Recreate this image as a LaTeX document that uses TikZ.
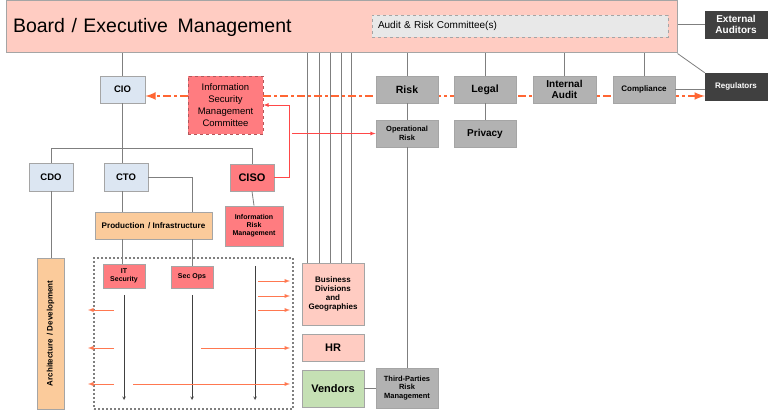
\documentclass[tikz,border=0pt]{standalone}
\usepackage{fontspec}
\setmainfont{Liberation Sans}
\usepackage{xcolor}
\usetikzlibrary{arrows,backgrounds,calc,positioning}
\definecolor{boardpink}{RGB}{255,204,194}
\definecolor{boardline}{RGB}{165,165,165}
\definecolor{auditgray}{RGB}{232,232,232}
\definecolor{darkbox}{RGB}{64,64,64}
\definecolor{riskgray}{RGB}{178,178,178}
\definecolor{itblue}{RGB}{220,230,242}
\definecolor{secred}{RGB}{255,124,128}
\definecolor{prodorange}{RGB}{251,203,155}
\definecolor{vendgreen}{RGB}{197,224,180}
\definecolor{linegray}{RGB}{127,127,127}
\definecolor{policyorange}{RGB}{255,102,51}
\definecolor{feedcoral}{RGB}{255,120,80}
\definecolor{alertred}{RGB}{255,72,72}
\tikzset{%
	tx/.style        = {font=\bfseries\fontsize{#1}{\the\dimexpr #1pt*23/20\relax}\selectfont},
	board/.style     = {draw=boardline, fill=boardpink, line width=1pt, minimum height=52, text width=657, inner xsep=7, align=left, font=\fontsize{19.5}{23}\selectfont},
	committee/.style = {draw=boardline, dashed, fill=auditgray, minimum height=22, text width=284, inner xsep=6, align=left, font=\fontsize{10}{12}\selectfont},
	outside/.style   = {draw=darkbox, fill=darkbox, inner sep=1pt, align=center, text=white},
	func/.style      = {draw=boardline, fill=riskgray, line width=0.8pt, inner sep=1pt, align=center},
	itbox/.style     = {draw=boardline, fill=itblue, line width=0.8pt, inner sep=1pt, align=center},
	secbox/.style    = {draw=boardline, fill=secred, line width=0.8pt, inner sep=1pt, align=center},
	prodbox/.style   = {draw=boardline, fill=prodorange, line width=0.8pt, inner sep=1pt, align=center},
	bizbox/.style    = {draw=boardline, fill=boardpink, line width=0.8pt, inner sep=1pt, align=center},
	vendbox/.style   = {draw=boardline, fill=vendgreen, line width=0.8pt, inner sep=1pt, align=center},
	opsframe/.style  = {draw=linegray, line width=2pt, dash pattern=on 2pt off 2pt},
	link/.style      = {draw=linegray, line width=0.8pt},
	policy/.style    = {draw=policyorange, line width=2.5pt, dash pattern=on 8pt off 3pt on 3pt off 3pt, -latex},
	alert/.style     = {draw=alertred, line width=0.8pt, -latex},
	feed/.style      = {draw=feedcoral, line width=0.9pt, -latex},
	flow/.style      = {draw=black!75, line width=0.6pt, -stealth},
}
\begin{document}
\begin{tikzpicture}[x=1pt, y=-1pt]
	\useasboundingbox (0,0) rectangle (768,411);
	% board level
	\node[board] (board) at (341.5,27) {Board / Executive\, Management};
	\node[committee] (audit) at (520,26) {Audit \& Risk Committee(s)};
	\node[outside, tx=10, minimum width=62, minimum height=27] (extaud) at (736,24.5) {External\\Auditors};
	\node[outside, tx=8, minimum width=62, minimum height=27] (reg) at (736,86.5) {Regulators};
	% second line functions
	\node[func, tx=10.5, minimum width=62, minimum height=27] (risk) at (407,89.5) {Risk};
	\node[func, tx=10.5, minimum width=62, minimum height=27] (legal) at (485,89.5) {Legal};
	\node[func, tx=10, minimum width=63, minimum height=27] (iaudit) at (564.5,89.5) {Internal\\Audit};
	\node[func, tx=8, minimum width=62, minimum height=27] (compl) at (644,89.5) {Compliance};
	\node[func, tx=7.5, minimum width=62, minimum height=27] (oprisk) at (407,133.5) {Operational\\Risk};
	\node[func, tx=10, minimum width=62, minimum height=27] (privacy) at (485,133.5) {Privacy};
	\node[func, tx=7.5, minimum width=62, minimum height=40] (tprm) at (407,388) {Third-Parties\\Risk\\Management};
	% IT side
	\node[itbox, tx=9.5, minimum width=45, minimum height=27] (cio) at (122.5,89.5) {CIO};
	\node[secbox, dashed, draw=secred!70!black, minimum width=75, minimum height=58, font=\fontsize{9.5}{11.8}\selectfont] (ismc) at (225.5,105) {Information\\Security\\Management\\Committee};
	\node[itbox, tx=9.5, minimum width=44, minimum height=28] (cdo) at (51,177) {CDO};
	\node[itbox, tx=9.5, minimum width=44, minimum height=28] (cto) at (126,177) {CTO};
	\node[secbox, tx=11, minimum width=44, minimum height=27] (ciso) at (252,177.5) {CISO};
	\node[prodbox, tx=8.1, minimum width=117, minimum height=27] (prod) at (153.5,225.5) {Production\, / Infrastructure};
	\node[secbox, tx=7, minimum width=58, minimum height=40] (irm) at (254,226) {Information\\Risk\\Management};
	\node[prodbox, minimum width=27, minimum height=151] (arch) at (50.5,333.5) {};
	\node[rotate=90, tx=8] (archtext) at (arch) {Architecture\, / Development};
	\node[opsframe, minimum width=199, minimum height=151] (ops) at (193.5,333.5) {};
	\node[secbox, tx=7, minimum width=42, minimum height=24] (itsec) at (124,276) {IT\\Security};
	\node[secbox, tx=7, minimum width=42, minimum height=22] (secops) at (192,277) {Sec Ops};
	% business side
	\node[bizbox, tx=8, minimum width=62, minimum height=62] (bdg) at (333,294) {Business\\Divisions\\and\\Geographies};
	\node[bizbox, tx=11, minimum width=62, minimum height=27] (hr) at (333,347.5) {HR};
	\node[vendbox, tx=11, minimum width=62, minimum height=37] (vendors) at (333,388.5) {Vendors};
	% reporting lines
	\draw[link] (board.south -| cio.north) -- (cio.north);
	\foreach \n in {risk,legal,iaudit,compl}
		\draw[link] (board.south -| \n.north) -- (\n.north);
	\draw[link] (extaud.west) -- (extaud.west -| board.east);
	\draw[link] (board.south east) -- (reg.north west);
	\draw[link] (compl.east) -- (compl.east -| reg.west);
	\draw[link] (risk.south) -- (oprisk.north);
	\draw[link] (legal.south) -- (privacy.north);
	\draw[link] (oprisk.south) -- (tprm.north);
	\draw[link] (vendors.east) -- (vendors.east -| tprm.west);
	\draw[link] (cio.south) -- (cio.south |- cto.north);
	\draw[link] (cdo.north) -- ++(0,-14) -| (ciso.north);
	\draw[link] (cto.east) -| (prod.north -| secops.north);
	\draw[link] (cio.south |- cto.south) -- (cio.south |- prod.north);
	\draw[link] (cio.south |- prod.south) -- (cio.south |- itsec.north);
	\draw[link] (prod.south -| secops.north) -- (secops.north);
	\draw[link] (ciso.south) -- (irm.north);
	\draw[link] (cdo.south) -- (cdo.south |- arch.north);
	% lines behind the boxes
	\coordinate (polline) at (0,96);
	\begin{scope}[on background layer]
		\foreach \dx [count=\i] in {6,18,29,40,50} {
			\coordinate (bd\i) at ([xshift=\dx pt]bdg.north west);
			\draw[link] (bd\i |- board.south) -- (bd\i);
		}
		\draw[policy] (ismc.west |- polline) -- (cio.east |- polline);
		\draw[policy] (ismc.east |- polline) -- (reg.west |- polline);
	\end{scope}
	% CISO reporting
	\draw[alert] (ciso.east) -- ++(15,0) coordinate (tap) |- (ismc.east);
	\coordinate (tap2) at ([xshift=3pt]tap);
	\draw[alert] (tap2 |- oprisk.west) -- (oprisk.west);
	% operations flows
	\coordinate (flowtop) at (0,295);
	\coordinate (flowend) at (0,400);
	\coordinate (lane3) at (255,266);
	\draw[flow] (itsec.south |- flowtop) -- (itsec.south |- flowend);
	\draw[flow] (secops.south |- flowtop) -- (secops.south |- flowend);
	\draw[flow] (lane3) -- (lane3 |- flowend);
	\coordinate (feedR) at (258,0);
	\coordinate (tipR) at (290,0);
	\coordinate (feedL) at (114,0);
	\coordinate (tipL) at (88,0);
	\foreach \y in {281,296,310}
		\draw[feed] (feedR |- 0,\y) -- (tipR |- 0,\y);
	\foreach \y in {310,348,384}
		\draw[feed] (feedL |- 0,\y) -- (tipL |- 0,\y);
	\draw[feed] (201,348) -- (tipR |- 0,348);
	\draw[feed] (133,384) -- (tipR |- 0,384);
\end{tikzpicture}
\end{document}
